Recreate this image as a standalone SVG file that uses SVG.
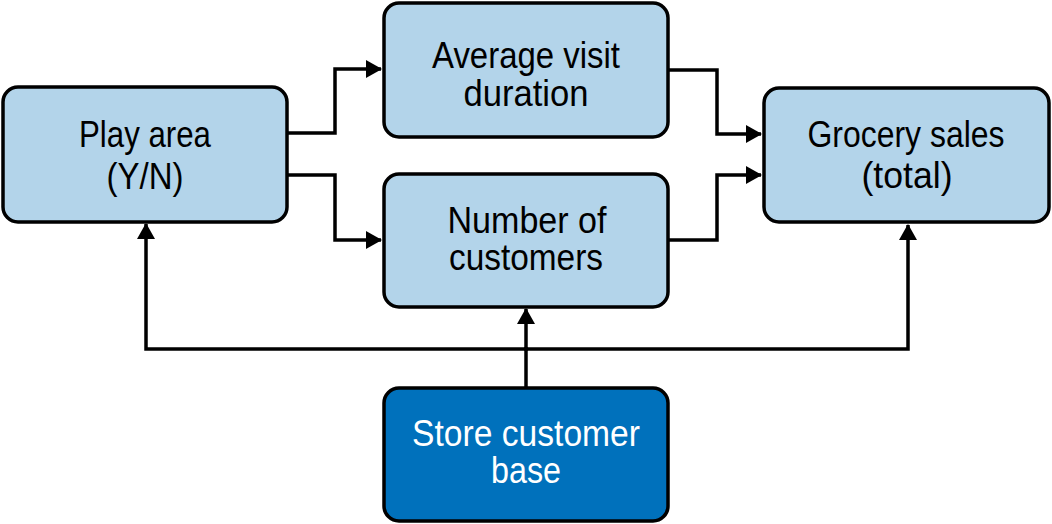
<svg xmlns="http://www.w3.org/2000/svg" width="1052" height="524" viewBox="0 0 1052 524">
<style>
.box{fill:#b3d4ea;stroke:#000;stroke-width:3.5}
.dark{fill:#0071bc;stroke:#000;stroke-width:3.5}
.t{font-family:"Liberation Sans",Arial,sans-serif;font-size:36px;text-anchor:middle;fill:#000}
.w{fill:#fff}
.c{fill:none;stroke:#000;stroke-width:3.5}
</style>
<defs>
<marker id="a" markerUnits="userSpaceOnUse" markerWidth="16" markerHeight="18" refX="15" refY="9" orient="auto">
<path d="M0,0 L16,9 L0,18 Z" fill="#000"/>
</marker>
</defs>
<rect width="1052" height="524" fill="#fff"/>
<g id="connectors">
<path class="c" d="M288,133 H335 V69 H381" marker-end="url(#a)"/>
<path class="c" d="M288,175 H335 V240 H381" marker-end="url(#a)"/>
<path class="c" d="M669,70 H717 V134 H761" marker-end="url(#a)"/>
<path class="c" d="M669,240 H717 V175 H761" marker-end="url(#a)"/>
<path class="c" d="M526,387 V309" marker-end="url(#a)"/>
<path class="c" d="M528,349 H146 V224" marker-end="url(#a)"/>
<path class="c" d="M524,349 H908 V225" marker-end="url(#a)"/>
</g>
<g id="play">
<rect class="box" x="3" y="87" width="284" height="135" rx="15"/>
<text class="t" x="145" y="147" textLength="132" lengthAdjust="spacingAndGlyphs">Play area</text>
<text class="t" x="145" y="189" textLength="77" lengthAdjust="spacingAndGlyphs">(Y/N)</text>
</g>
<g id="avg">
<rect class="box" x="384" y="3" width="284" height="134" rx="15"/>
<text class="t" x="526" y="68" textLength="188" lengthAdjust="spacingAndGlyphs">Average visit</text>
<text class="t" x="526" y="106" textLength="125" lengthAdjust="spacingAndGlyphs">duration</text>
</g>
<g id="number">
<rect class="box" x="384" y="174" width="284" height="133" rx="15"/>
<text class="t" x="527" y="233" textLength="159" lengthAdjust="spacingAndGlyphs">Number of</text>
<text class="t" x="526" y="270" textLength="154" lengthAdjust="spacingAndGlyphs">customers</text>
</g>
<g id="grocery">
<rect class="box" x="764" y="88" width="285" height="134" rx="15"/>
<text class="t" x="906" y="147" textLength="197" lengthAdjust="spacingAndGlyphs">Grocery sales</text>
<text class="t" x="907" y="188" textLength="91" lengthAdjust="spacingAndGlyphs">(total)</text>
</g>
<g id="store">
<rect class="dark" x="384" y="388" width="284" height="133" rx="15"/>
<text class="t w" x="526" y="446" textLength="228" lengthAdjust="spacingAndGlyphs">Store customer</text>
<text class="t w" x="526" y="483" textLength="70" lengthAdjust="spacingAndGlyphs">base</text>
</g>
</svg>
